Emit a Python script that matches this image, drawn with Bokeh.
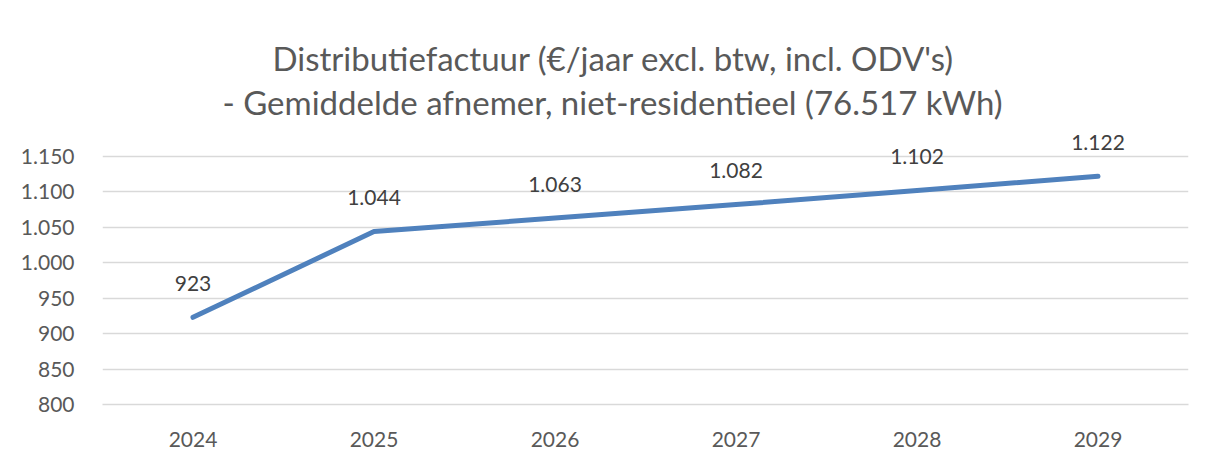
from bokeh.plotting import figure
from bokeh.models import FactorRange, Range1d, FixedTicker, Title
from bokeh.core.properties import value
from bokeh.embed import file_html
from bokeh.resources import INLINE

years = ["2024", "2025", "2026", "2027", "2028", "2029"]
values = [923, 1044, 1063, 1082, 1102, 1122]
labels = ["923", "1.044", "1.063", "1.082", "1.102", "1.122"]
y_ticks = [800, 850, 900, 950, 1000, 1050, 1100, 1150]
y_tick_labels = ["800", "850", "900", "950", "1.000", "1.050", "1.100", "1.150"]
title_lines = ["Distributiefactuur (€/jaar excl. btw, incl. ODV's)",
               "- Gemiddelde afnemer, niet-residentieel (76.517 kWh)"]

FONT = "Lato"
W, H = 1206, 452

p = figure(width=W, height=H, x_range=FactorRange(*years), y_range=Range1d(800, 1195),
           output_backend="svg", toolbar_location=None,
           min_border_left=102, min_border_right=18, min_border_top=124, min_border_bottom=48)
p.outline_line_color = None
p.background_fill_color = "white"
p.border_fill_color = "white"

p.title.text = title_lines[0]
sub = Title(text=title_lines[1])
for t in (p.title, sub):
    t.align = "left"
    t.text_font = FONT
    t.text_font_size = "33px"
    t.text_font_style = "normal"
    t.text_color = "#595959"
    t.standoff = 0
p.title.offset = 170
sub.offset = 120
sub.standoff = 5
p.title.text_baseline = "alphabetic"
p.add_layout(sub, "above")

p.xgrid.grid_line_color = None
p.ygrid.grid_line_color = "#d9d9d9"
p.ygrid.grid_line_width = 1.5
p.yaxis.ticker = FixedTicker(ticks=y_ticks)
p.yaxis.major_label_overrides = {t: l for t, l in zip(y_ticks, y_tick_labels)}

for ax in (p.xaxis, p.yaxis):
    ax.axis_line_color = None
    ax.major_tick_line_color = None
    ax.minor_tick_line_color = None
    ax.major_label_text_font = FONT
    ax.major_label_text_font_size = "21px"
    ax.major_label_text_color = "#595959"
p.xaxis.axis_line_color = "#d9d9d9"
p.xaxis.axis_line_width = 1.5
p.xaxis.major_label_standoff = 21
p.yaxis.major_label_standoff = 22

p.line(years, values, line_color="#4f81bd", line_width=5, line_cap="round", line_join="round")
p.text(years, values, text=labels, y_offset=-34, text_align="center", text_baseline="middle",
       text_font=value(FONT), text_font_size="21px", text_color="#404040")

open("out.html", "w").write(file_html(p, INLINE))
